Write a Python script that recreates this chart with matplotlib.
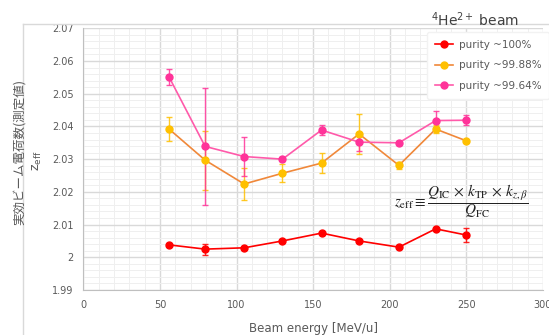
import matplotlib
matplotlib.use('Agg')
import matplotlib.pyplot as plt
from matplotlib.ticker import MultipleLocator, FuncFormatter
from matplotlib.lines import Line2D

plt.rcParams['font.family'] = ['DejaVu Sans']
plt.rcParams['mathtext.fontset'] = 'stix'

# beam energy [MeV/u]
energy = [56, 79.5, 105, 130, 155.5, 180, 206, 230, 250]

# purity ~100%
z_100 = [2.0038, 2.0025, 2.0029, 2.0050, 2.0074, 2.0050, 2.0031, 2.0087, 2.0068]
err_100 = [0.0004, 0.0017, 0.0004, 0.0004, 0.0004, 0.0004, 0.0004, 0.0004, 0.0021]

# purity ~99.88%
z_9988 = [2.0392, 2.0297, 2.0224, 2.0257, 2.0288, 2.0377, 2.0281, 2.0392, 2.0356]
err_9988 = [0.0036, 0.0090, 0.0050, 0.0028, 0.0030, 0.0060, 0.0010, 0.0012, 0.0004]

# purity ~99.64%
z_9964 = [2.0551, 2.0339, 2.0308, 2.0300, 2.0389, 2.0352, 2.0350, 2.0418, 2.0419]
err_9964 = [0.0024, 0.0180, 0.0060, 0.0006, 0.0015, 0.0027, 0.0006, 0.0029, 0.0015]

labels = ['purity ~100%', 'purity ~99.88%', 'purity ~99.64%']

fig = plt.figure(figsize=(5.49, 3.35), dpi=100)
ax = fig.add_axes([0.1517, 0.1343, 0.8373, 0.7812])

gray = '#595959'

# series: (values, errors, line colour, marker colour, errbar colour)
series = [
    (z_100, err_100, '#FF0000', '#FF0000', '#FF0000'),
    (z_9988, err_9988, '#F0883A', '#FFC000', '#FFC000'),
    (z_9964, err_9964, '#FF5AAA', '#FF3399', '#FF3399'),
]
handles = []
for (vals, errs, lc, mc, ec), lab in zip(series, labels):
    ax.errorbar(energy, vals, yerr=errs, fmt='none', ecolor=ec, elinewidth=1.0,
                capsize=2, capthick=1.0, zorder=3, alpha=0.85)
    ax.plot(energy, vals, '-', color=lc, lw=1.2, zorder=4)
    ax.plot(energy, vals, 'o', color=mc, ms=5, zorder=5, mec=mc)
    handles.append(Line2D([0], [0], color=lc, lw=1.2, marker='o', ms=5,
                          mfc=mc, mec=mc, label=lab))

ax.set_xlim(0, 300)
ax.set_ylim(1.99, 2.07)
ax.xaxis.set_major_locator(MultipleLocator(50))
ax.xaxis.set_minor_locator(MultipleLocator(10))
ax.yaxis.set_major_locator(MultipleLocator(0.01))
ax.yaxis.set_minor_locator(MultipleLocator(0.002))
ax.yaxis.set_major_formatter(FuncFormatter(lambda v, p: f'{round(v, 3):g}'))

ax.grid(which='major', color='#D9D9D9', lw=1.0, zorder=0)
ax.grid(which='minor', color='#EFEFEF', lw=0.7, zorder=0)
ax.set_axisbelow(True)
ax.tick_params(which='both', length=0, colors=gray, labelsize=7, pad=7)
for s in ['top', 'right']:
    ax.spines[s].set_visible(False)
for s in ['left', 'bottom']:
    ax.spines[s].set_color('#BFBFBF')

ax.set_xlabel('Beam energy [MeV/u]', color=gray, fontsize=8.5, labelpad=9)

fig.text(0.036, 0.545, '実効ビーム電荷数(測定値)', rotation=90, ha='center', va='center',
         color=gray, fontsize=9, family=['Noto Sans CJK JP', 'DejaVu Sans'])
fig.text(0.068, 0.52, r'$\mathregular{z_{eff}}$', rotation=90, ha='center', va='center',
         color=gray, fontsize=9)

fig.text(0.865, 0.94, r'$\mathregular{^{4}He^{2+}}$ beam', ha='center', va='center',
         color='#404040', fontsize=10)

leg = ax.legend(handles=handles, loc='upper left', bbox_to_anchor=(0.737, 1.005),
                frameon=True, fontsize=7.5, labelcolor=gray, handlelength=1.7,
                handletextpad=0.6, borderpad=0.75, labelspacing=1.0)
leg.get_frame().set_facecolor('white')
leg.get_frame().set_edgecolor('#F2F2F2')
leg.get_frame().set_alpha(1)

ax.text(0.822, 0.34,
        r'$z_{\mathrm{eff}} \equiv \dfrac{Q_{\mathrm{IC}}\,\times\,k_{\mathrm{TP}}\,\times\,k_{z,\beta}}{Q_{\mathrm{FC}}}$',
        transform=ax.transAxes, ha='center', va='center', fontsize=11, color='#222222')

# outer chart border
fig.add_artist(Line2D([0.042, 0.042], [0, 0.928], color='#D9D9D9', lw=1, transform=fig.transFigure))
fig.add_artist(Line2D([0.042, 1], [0.928, 0.928], color='#D9D9D9', lw=1, transform=fig.transFigure))

fig.savefig('out.png', dpi=100)
